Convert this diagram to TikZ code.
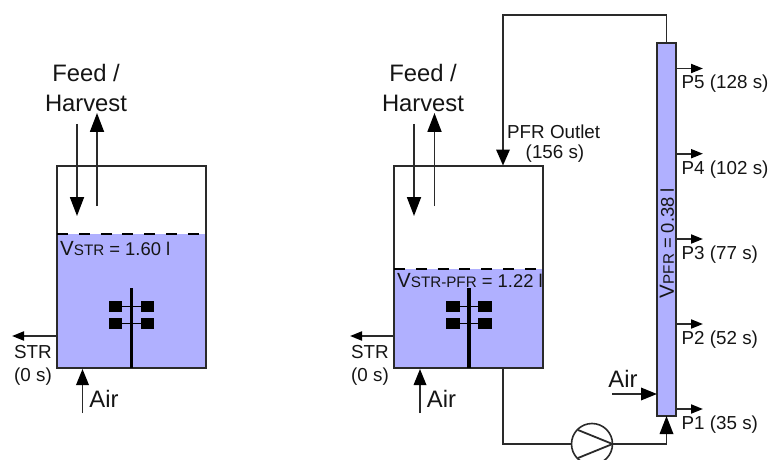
\documentclass[tikz,border=0pt]{standalone}
\usepackage{fontspec}
\setmainfont{Liberation Sans}
\usetikzlibrary{arrows.meta,calc}
\definecolor{liq}{HTML}{B0B0FF}
\definecolor{ln}{HTML}{2A2A2A}
\definecolor{tx}{HTML}{151515}
\tikzset{
  box/.style={draw=ln,line width=1.6pt,inner sep=0pt,outer sep=0pt,minimum width=#1},
  liquid/.style={fill=liq,inner sep=0pt,outer sep=0pt,minimum width=149pt},
  plainpipe/.style={draw=ln,line width=1.8pt},
  bighead/.style={plainpipe,-{Triangle[length=19pt,width=14pt,color=black]}},
  airhead/.style={plainpipe,-{Triangle[length=16pt,width=12.5pt,color=black]}},
  smallhead/.style={plainpipe,-{Triangle[length=12pt,width=9pt,color=black]}},
  biglabel/.style={font=\fontsize{23.8}{26}\selectfont,text=tx,inner sep=0pt},
  lab/.style={font=\fontsize{18.8}{22}\selectfont,text=tx,inner sep=0pt},
  vol/.style={font=\fontsize{18.4}{24}\selectfont,text=tx,inner sep=0pt},
  blade/.style={fill=black,inner sep=0pt,outer sep=0pt,minimum width=13.5pt,minimum height=10.5pt},
  shaft/.style={draw=black,line width=3.6pt},
  arm/.style={draw=black,line width=1.2pt},
  level/.style={draw=black,line width=1.5pt,dash pattern=on 11pt off 10.8pt},
  pumpc/.style={circle,draw=ln,line width=1.6pt,minimum size=41pt,inner sep=0pt,outer sep=0pt},
  column/.style={draw=ln,fill=liq,line width=1.6pt,inner sep=0pt,outer sep=0pt,minimum width=19pt,minimum height=373pt}
}
\newcommand{\volV}{{\fontsize{20.5}{24}\selectfont V}}
\newcommand{\smallsub}[1]{{\fontsize{15.2}{20}\selectfont #1}}
\begin{document}
\begin{tikzpicture}[x=1pt,y=-1pt]
\clip (0,0) rectangle (772,460);
\fill[white] (0,0) rectangle (772,460);
% --- left tank
\node[liquid,minimum height=134pt] (liqA) at (131.5,301) {};
\node[box=149pt,minimum height=202pt] (tankA) at (131.5,267) {};
\draw[level] (liqA.north west) -- (liqA.north east);
\coordinate (shaftTopA) at (131.5,288);
\coordinate (shaftBotA) at (131.5,368);
\draw[shaft] (shaftTopA) -- (shaftBotA);
\node[blade] (a1) at (115.5,306.5) {};
\node[blade] (a2) at (147.5,306.5) {};
\node[blade] (a3) at (115.5,323.5) {};
\node[blade] (a4) at (147.5,323.5) {};
\draw[arm] (a1) -- (a2);
\draw[arm] (a3) -- (a4);
\node[biglabel] (feedA) at (86,73) {Feed /};
\node[biglabel] (harvA) at (86,103) {Harvest};
\coordinate (fA1) at (77,124); \coordinate (fA2) at (77,216);
\coordinate (hA1) at (97,206); \coordinate (hA2) at (97,113);
\draw[bighead] (fA1) -- (fA2);
\draw[bighead] (hA1) -- (hA2);
\node[vol,anchor=base west] (vA) at (60,255) {\volV\smallsub{STR} = 1.60 l};
\coordinate (sA1) at (57,336); \coordinate (sA2) at (12,336);
\draw[smallhead] (sA1) -- (sA2);
\node[lab] (strA) at (33,352.5) {STR};
\node[lab] (tA) at (33,376.5) {(0 s)};
\coordinate (airA1) at (82.5,413); \coordinate (airA2) at (82.5,369);
\draw[airhead] (airA1) -- (airA2);
\node[biglabel] (airAl) at (104,399) {Air};
% --- right tank
\node[liquid,minimum height=99pt] (liqB) at (468.5,318.5) {};
\node[box=149pt,minimum height=202pt] (tankB) at (468.5,267) {};
\draw[level] (liqB.north west) -- (liqB.north east);
\coordinate (shaftTopB) at (469,288);
\coordinate (shaftBotB) at (469,368);
\draw[shaft] (shaftTopB) -- (shaftBotB);
\node[blade] (b1) at (453,306.5) {};
\node[blade] (b2) at (485,306.5) {};
\node[blade] (b3) at (453,323.5) {};
\node[blade] (b4) at (485,323.5) {};
\draw[arm] (b1) -- (b2);
\draw[arm] (b3) -- (b4);
\node[biglabel] (feedB) at (423,73) {Feed /};
\node[biglabel] (harvB) at (423,103) {Harvest};
\coordinate (fB1) at (414,124); \coordinate (fB2) at (414,216);
\coordinate (hB1) at (434.5,206); \coordinate (hB2) at (434.5,113);
\draw[bighead] (fB1) -- (fB2);
\draw[bighead] (hB1) -- (hB2);
\node[vol,anchor=base west] (vB) at (397,287) {\volV\smallsub{STR-PFR} = 1.22 l};
\coordinate (sB1) at (394,336); \coordinate (sB2) at (350,336);
\draw[smallhead] (sB1) -- (sB2);
\node[lab] (strB) at (370,352.5) {STR};
\node[lab] (tB) at (370,376.5) {(0 s)};
\coordinate (airB1) at (420,413); \coordinate (airB2) at (420,369);
\draw[airhead] (airB1) -- (airB2);
\node[biglabel] (airBl) at (441.5,399) {Air};
% --- column
\node[column] (col) at (666.5,229.5) {};
\node[vol,rotate=90] (vP) at (667,243) {\volV\smallsub{PFR} = 0.38 l};
% --- pump
\node[pumpc] (pump) at (592,444) {};
\coordinate (tankOut) at (503,368);
\coordinate (pumpTip) at (612.5,444);
\coordinate (corner1) at (503,444);
\draw[plainpipe] (tankOut) -- (corner1) -- (pump.west);
\draw[plainpipe] (578,430) -- (pumpTip) -- (578,458);
\coordinate (colIn) at (666.5,444);
\draw[plainpipe,-{Triangle[length=18pt,width=13.5pt,color=black]}] (pumpTip) -- (colIn) -- (col.south);
% --- recycle
\coordinate (top1) at (666.5,15);
\coordinate (top2) at (503,15);
\coordinate (tankIn) at (503,165.5);
\draw[plainpipe,-{Triangle[length=16pt,width=13.5pt,color=black]}] (col.north) -- (top1) -- (top2) -- (tankIn);
\node[lab,anchor=west] (pfr) at (507,131.5) {PFR Outlet};
\node[lab] (pfrt) at (555,153.5) {(156 s)};
% --- ports
\foreach \n/\y/\t in {5/68.5/128,4/153.7/102,3/239/77,2/324/52,1/409/35}{
  \coordinate (p\n a) at (676,\y);
  \coordinate (p\n b) at (703,\y);
  \draw[smallhead] (p\n a) -- (p\n b);
  \node[lab,anchor=west] (p\n l) at (681.5,\y+15.5) {P\n\ (\t\ s)};
}
% --- air to column
\coordinate (airC1) at (612,394);
\coordinate (airC2) at (657,394);
\draw[airhead] (airC1) -- (airC2);
\node[biglabel] (airCl) at (623,379) {Air};
\end{tikzpicture}
\end{document}
